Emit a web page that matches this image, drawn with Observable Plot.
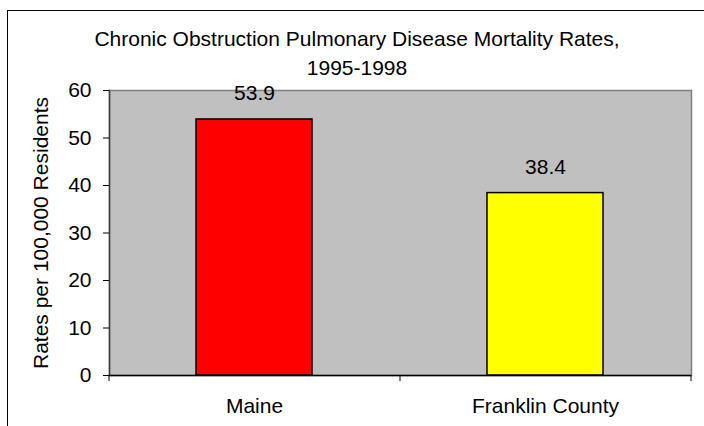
<!DOCTYPE html>
<html>
<head>
<meta charset="utf-8">
<script src="https://cdn.jsdelivr.net/npm/d3@7"></script>
<script src="https://cdn.jsdelivr.net/npm/@observablehq/plot@0.6"></script>
<style>
  html, body { margin: 0; padding: 0; background: #fff; overflow: hidden; }
  #wrap { position: relative; width: 704px; height: 426px; overflow: hidden;
          font-family: "Liberation Sans", Arial, sans-serif; }
  #border { position: absolute; left: 7px; top: 10px; width: 720px; height: 440px;
            border: 1px solid #000; box-sizing: border-box; pointer-events: none; }
  #title { position: absolute; left: 7px; width: 700px; top: 24px; text-align: center;
           font-size: 21px; line-height: 29px; color: #000; }
  #chart { position: absolute; left: 0; top: 0; }
</style>
</head>
<body>
<div id="wrap">
  <div id="chart"></div>
  <div id="border"></div>
  <div id="title">Chronic Obstruction Pulmonary Disease Mortality Rates,<br>1995-1998</div>
</div>
<script>
const categories = ["Maine", "Franklin County"];
const rates = [53.9, 38.4];
const barColors = ["#ff0000", "#ffff00"];
const yTicks = [0, 10, 20, 30, 40, 50, 60];
const yLabel = "Rates per 100,000 Residents";

const data = categories.map((c, i) => ({category: c, rate: rates[i], color: barColors[i]}));

const W = 704, H = 426;
const margin = {left: 109, right: 13, top: 90, bottom: 51};
const frameH = H - margin.top - margin.bottom;
const step = (W - margin.left - margin.right) / categories.length;

const chart = Plot.plot({
  width: W,
  height: H,
  marginLeft: margin.left,
  marginRight: margin.right,
  marginTop: margin.top,
  marginBottom: margin.bottom,
  style: {fontFamily: "'Liberation Sans', Arial, sans-serif", fontSize: "21px", color: "#000", background: "transparent"},
  x: {domain: categories, paddingInner: 0.6, paddingOuter: 0.3},
  y: {domain: [0, 60]},
  marks: [
    Plot.frame({fill: "#c0c0c0", stroke: "#808080", strokeWidth: 1.5}),
    Plot.frame({anchor: "left", stroke: "#404040", strokeWidth: 1.5}),
    Plot.barY(data, {x: "category", y: "rate", fill: "color", stroke: "#000", strokeWidth: 1.5}),
    Plot.ruleY([0], {stroke: "#000", strokeWidth: 1.5}),
    Plot.tickX(categories, {x: d => d, dx: -step / 2, insetTop: frameH, insetBottom: -6, stroke: "#000"}),
    Plot.tickX(categories.slice(-1), {x: d => d, dx: step / 2, insetTop: frameH, insetBottom: -6, stroke: "#000"}),
    Plot.text(data, {x: "category", y: "rate", text: d => d3.format(".1f")(d.rate), dy: -19, lineAnchor: "bottom", fontSize: 21, fill: "#000"}),
    Plot.axisY({ticks: yTicks, tickSize: 6, tickPadding: 12, fontSize: 21, label: yLabel, labelAnchor: "center", labelArrow: "none", labelOffset: 76}),
    Plot.axisX({tickSize: 0, tickPadding: 23, fontSize: 21, label: null})
  ]
});
document.getElementById("chart").appendChild(chart);
</script>
</body>
</html>
